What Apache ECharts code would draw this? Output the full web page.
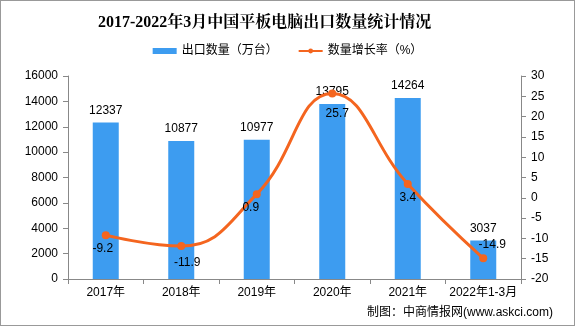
<!DOCTYPE html>
<html><head><meta charset="utf-8">
<script src="https://cdn.jsdelivr.net/npm/echarts@6/dist/echarts.min.js"></script>
<style>html,body{margin:0;padding:0;background:#fff}#c{width:575px;height:326px;box-sizing:border-box;border:1px solid #999}</style>
</head><body><div id="c"></div>
<script>
var categories = ['2017年','2018年','2019年','2020年','2021年','2022年1-3月'];
var exportVolume = [12337,10877,10977,13795,14264,3037];
var growthRate = [-9.2,-11.9,0.9,25.7,3.4,-14.9];
var leftTicks = [0,16000,2000];
var rightTicks = [-20,30,5];

var F = 'Liberation Sans, Noto Sans CJK SC, sans-serif';
var lblPos = [
  {position:'bottom', offset:[-3,0]},
  {position:'bottom', offset:[6,3]},
  {position:'bottom', offset:[-6,0]},
  {position:'bottom', offset:[5,6]},
  {position:'bottom', offset:[0,0]},
  {position:'top', offset:[9,0]}
];
var lineData = growthRate.map(function(v,i){return {value:v,label:lblPos[i]};});

var chart = echarts.init(document.getElementById('c'));
chart.setOption({
  animation:false,
  title:{text:'2017-2022年3月中国平板电脑出口数量统计情况',left:92,top:9,
    textStyle:{fontSize:16,fontWeight:'bold',color:'#000',fontFamily:'Liberation Serif, Noto Serif CJK SC, Noto Sans CJK SC, serif'}},
  legend:{top:39,left:'center',itemGap:20,itemWidth:24,itemHeight:6,
    textStyle:{fontSize:12,color:'#000',fontFamily:F},
    data:[{name:'出口数量（万台）',icon:'rect'},{name:'数量增长率（%）'}]},
  grid:{left:67,right:53,top:75,bottom:46},
  xAxis:{type:'category',data:categories,
    axisLine:{lineStyle:{color:'#888'}},
    axisTick:{show:true,lineStyle:{color:'#888'}},
    axisLabel:{color:'#000',fontSize:12,fontFamily:F,margin:8,interval:0}},
  yAxis:[
    {type:'value',min:leftTicks[0],max:leftTicks[1],interval:leftTicks[2],
     axisLine:{show:true,lineStyle:{color:'#888'}},axisTick:{show:true,length:5,lineStyle:{color:'#888'}},
     splitLine:{show:false},axisLabel:{color:'#000',fontSize:12,fontFamily:F,margin:10,formatter:function(v){return String(v);}}},
    {type:'value',min:rightTicks[0],max:rightTicks[1],interval:rightTicks[2],
     axisLine:{show:true,lineStyle:{color:'#888'}},axisTick:{show:true,length:5,lineStyle:{color:'#888'}},
     splitLine:{show:false},axisLabel:{color:'#000',fontSize:12,fontFamily:F,margin:10}}
  ],
  series:[
    {name:'出口数量（万台）',type:'bar',data:exportVolume,barWidth:26,
     itemStyle:{color:'#3d9cf0'},
     label:{show:true,position:'top',distance:6,color:'#000',fontSize:12,fontFamily:F}},
    {name:'数量增长率（%）',type:'line',yAxisIndex:1,data:lineData,smooth:0.45,
     symbol:'circle',symbolSize:8,
     lineStyle:{color:'#f4651f',width:3},itemStyle:{color:'#f4651f'},
     label:{show:true,color:'#000',fontSize:12,fontFamily:F,distance:4}}
  ],
  graphic:[
    {type:'text',right:21,top:306,style:{text:'制图：中商情报网(www.askci.com)',fill:'#000',font:'12px '+F}}
  ]
});
</script></body></html>
